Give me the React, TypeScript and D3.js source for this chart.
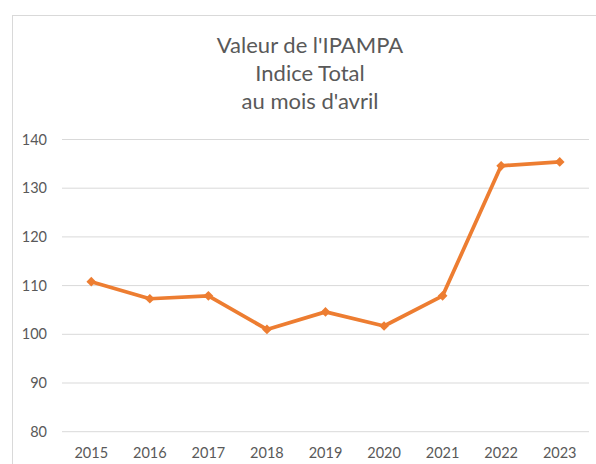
import React, { useRef, useEffect } from 'react';
import * as d3 from 'd3';

// IPAMPA total index, April values
const years = ['2015', '2016', '2017', '2018', '2019', '2020', '2021', '2022', '2023'];
const values = [110.8, 107.3, 107.9, 101.0, 104.6, 101.7, 107.9, 134.6, 135.4];
const yTicks = [80, 90, 100, 110, 120, 130, 140];
const titleLines = ["Valeur de l'IPAMPA", 'Indice Total', "au mois d'avril"];

const width = 596;
const height = 464;

const App = () => {
  const ref = useRef<SVGSVGElement>(null);

  useEffect(() => {
    const svg = d3.select(ref.current);
    svg.selectAll('*').remove();

    const font = 'Lato, "Open Sans", sans-serif';
    const margin = { top: 139.5, right: 7, bottom: 32, left: 62 };
    const innerWidth = width - margin.left - margin.right;
    const innerHeight = 431.7 - margin.top;

    // chart frame
    svg.append('rect')
      .attr('x', 12.5)
      .attr('y', 15.5)
      .attr('width', 600)
      .attr('height', 460)
      .attr('fill', '#fff')
      .attr('stroke', '#d9d9d9')
      .attr('stroke-width', 1);

    // title
    const title = svg.append('text')
      .attr('x', 310)
      .attr('text-anchor', 'middle')
      .attr('font-family', font)
      .attr('font-size', '22px')
      .attr('fill', '#595959');
    titleLines.forEach((t, i) => {
      title.append('tspan')
        .attr('x', 310)
        .attr('y', 53 + i * 28)
        .text(t);
    });

    const x = d3.scaleBand().domain(years).range([0, innerWidth]);
    const y = d3.scaleLinear().domain([80, 140]).range([innerHeight, 0]);

    const g = svg.append('g')
      .attr('transform', `translate(${margin.left},${margin.top})`);

    // grid
    g.selectAll('.grid')
      .data(yTicks)
      .enter()
      .append('line')
      .attr('x1', 0)
      .attr('x2', innerWidth)
      .attr('y1', d => y(d))
      .attr('y2', d => y(d))
      .attr('stroke', '#d9d9d9')
      .attr('stroke-width', 1);

    // y labels
    g.selectAll('.ylab')
      .data(yTicks)
      .enter()
      .append('text')
      .attr('x', -15)
      .attr('y', d => y(d))
      .attr('dy', '0.35em')
      .attr('text-anchor', 'end')
      .attr('font-family', font)
      .attr('font-size', '14.5px')
      .attr('fill', '#595959')
      .text(d => d);

    // x labels
    g.selectAll('.xlab')
      .data(years)
      .enter()
      .append('text')
      .attr('x', d => (x(d) as number) + x.bandwidth() / 2)
      .attr('y', innerHeight + 21)
      .attr('dy', '0.35em')
      .attr('text-anchor', 'middle')
      .attr('font-family', font)
      .attr('font-size', '14.5px')
      .attr('fill', '#595959')
      .text(d => d);

    const pts = years.map((yr, i) => ({ yr, v: values[i] }));

    const line = d3.line<{ yr: string; v: number }>()
      .x(d => (x(d.yr) as number) + x.bandwidth() / 2)
      .y(d => y(d.v));

    g.append('path')
      .datum(pts)
      .attr('fill', 'none')
      .attr('stroke', '#ed7d31')
      .attr('stroke-width', 3.75)
      .attr('stroke-linejoin', 'round')
      .attr('d', line);

    // diamond markers
    g.selectAll('.dot')
      .data(pts)
      .enter()
      .append('path')
      .attr('transform', d => `translate(${(x(d.yr) as number) + x.bandwidth() / 2},${y(d.v)})`)
      .attr('d', d3.symbol().type(d3.symbolDiamond2).size(60))
      .attr('fill', '#ed7d31');
  }, []);

  return (
    <svg
      ref={ref}
      width={width}
      height={height}
      style={{ position: 'absolute', left: 0, top: 0, background: '#fff' }}
    />
  );
};

export default App;
